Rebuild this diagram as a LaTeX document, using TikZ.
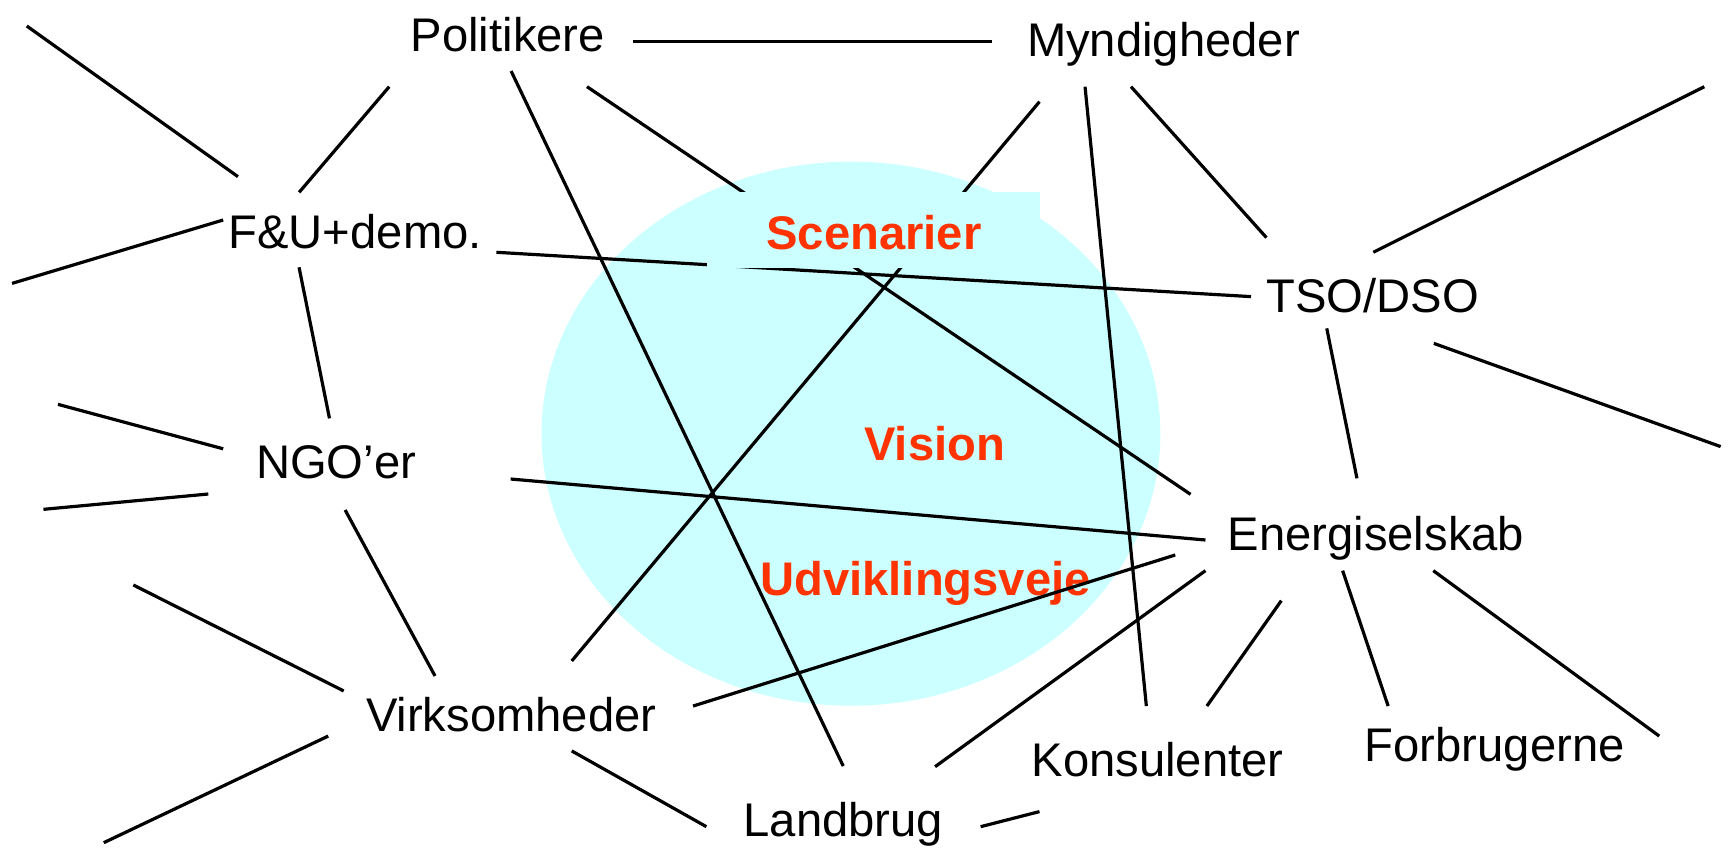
\documentclass[tikz,border=0pt]{standalone}
\usepackage{fontspec}
\newfontfamily\arialfont{Liberation Sans}
\newcommand\lblfont{\arialfont\fontsize{21.4}{25.7}\selectfont}
\definecolor{skycyan}{HTML}{CCFFFF}
\definecolor{accentred}{HTML}{FF3300}
\begin{document}
\begin{tikzpicture}[x=0.5pt,y=-0.5pt,
  lbl/.style={anchor=base west,inner sep=0pt,outer sep=0pt,font=\lblfont,text=black},
  redlbl/.style={lbl,font=\lblfont\bfseries,text=accentred},
  linkline/.style={draw=black,line width=1.45pt},
  coverbox/.style={fill=skycyan,draw=none,inner sep=0pt,minimum width=150.85pt,minimum height=34.3pt}]
\useasboundingbox (0,0) rectangle (1568,772);
% vision ellipse
\fill[skycyan] (771.7,393.3) ellipse [x radius=280.6, y radius=246.7];
% red labels inside
\node[redlbl] (vision) at (783.8,417.2) {Vision};
\node[redlbl] (udv) at (689.5,539.6) {Udviklingsveje};
% connector end points
\coordinate (a1) at (24.3,23.6);     \coordinate (b1) at (215.8,160.2);
\coordinate (a2) at (353,78.6);      \coordinate (b2) at (271.3,174.4);
\coordinate (a3) at (202.4,199.5);   \coordinate (b3) at (10.9,257);
\coordinate (a4) at (450.2,228.8);   \coordinate (b4) at (1134.5,269);
\coordinate (a5) at (271.2,242.4);   \coordinate (b5) at (298.8,379.4);
\coordinate (a6) at (52.6,366.7);    \coordinate (b6) at (202.4,407);
\coordinate (a7) at (39.4,461.9);    \coordinate (b7) at (188.9,448);
\coordinate (a8) at (463.1,434.4);   \coordinate (b8) at (1093.2,489.7);
\coordinate (a9) at (313,462.5);     \coordinate (b9) at (394.5,613);
\coordinate (a10) at (120.9,530.5);  \coordinate (b10) at (311.7,626.6);
\coordinate (a11) at (297.7,667.5);  \coordinate (b11) at (94.1,764.2);
\coordinate (a12) at (574,37.8);     \coordinate (b12) at (900,37.8);
\coordinate (a13) at (463.5,64.4);   \coordinate (b13) at (764.7,694.7);
\coordinate (a14) at (532.3,78.6);   \coordinate (b14) at (1079.7,448.3);
\coordinate (a15) at (942.7,92.2);   \coordinate (b15) at (518.5,599.4);
\coordinate (a16) at (984,78.6);     \coordinate (b16) at (1039.6,640.3);
\coordinate (a17) at (1025.7,78.6);  \coordinate (b17) at (1148.5,215.5);
\coordinate (a18) at (1245.4,228.8); \coordinate (b18) at (1545.6,78.6);
\coordinate (a19) at (1300.3,311.4); \coordinate (b19) at (1560.4,405);
\coordinate (a20) at (1203.2,297.8); \coordinate (b20) at (1230.6,433.8);
\coordinate (a21) at (1065.8,503.3); \coordinate (b21) at (628.5,640.3);
\coordinate (a22) at (1093.2,517.5); \coordinate (b22) at (848,695.3);
\coordinate (a23) at (1162,544.7);   \coordinate (b23) at (1094.5,640.3);
\coordinate (a24) at (1217.6,517.5); \coordinate (b24) at (1258.9,640.3);
\coordinate (a25) at (1299.8,517.5); \coordinate (b25) at (1504.7,667.5);
\coordinate (a26) at (518.5,681);    \coordinate (b26) at (640.6,749.7);
\coordinate (a27) at (889.3,749.7);  \coordinate (b27) at (942.7,736);
% connectors
\foreach \i in {1,...,27}{\draw[linkline] (a\i) -- (b\i);}
% Scenarier box covering the lines
\node[coverbox] (scenbox) at (791.85,208.7) {};
\node[redlbl] (scen) at (695.1,226.7) {Scenarier};
% actor labels
\node[lbl] (pol) at (372.5,46.9) {Politikere};
\node[lbl] (mynd) at (931.4,51.4) {Myndigheder};
\node[lbl] (fu) at (207.3,225.2) {F\&U+demo.};
\node[lbl] (tso) at (1148.5,283.2) {TSO/DSO};
\node[lbl] (ngo) at (232.2,433.8) {NGO’er};
\node[lbl] (energi) at (1113.4,498.8) {Energiselskab};
\node[lbl] (virk) at (332,663.5) {Virksomheder};
\node[lbl] (konsul) at (935.5,704.3) {Konsulenter};
\node[lbl] (forbr) at (1237.8,690.7) {Forbrugerne};
\node[lbl] (land) at (674.3,758.8) {Landbrug};
\end{tikzpicture}
\end{document}
